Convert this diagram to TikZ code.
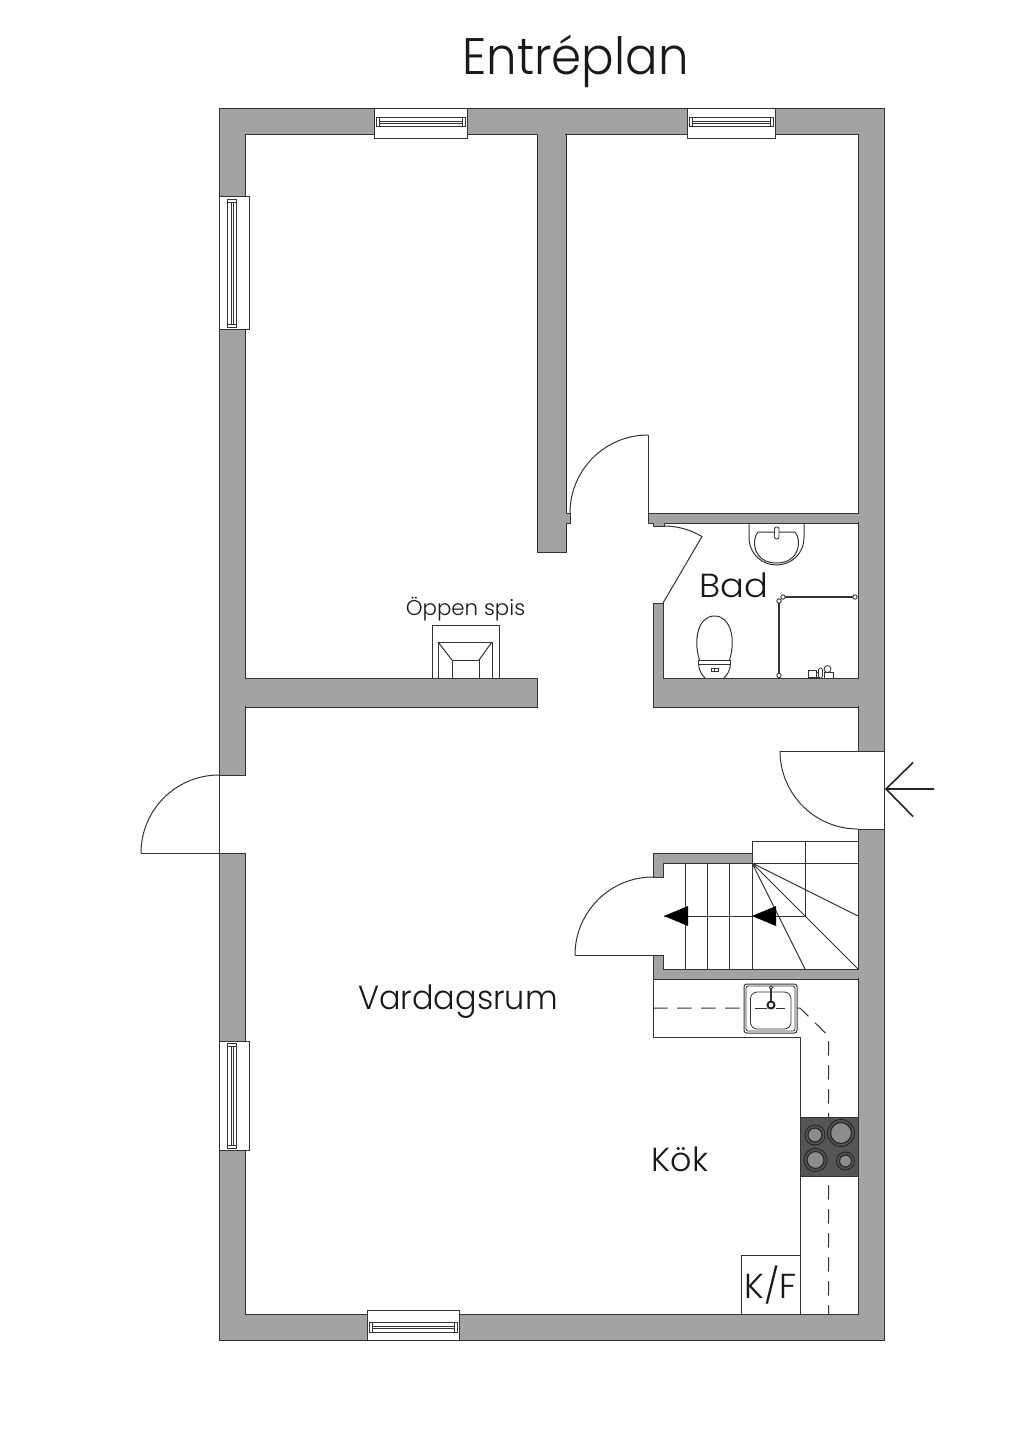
\documentclass[tikz,border=0pt]{standalone}
\usepackage{fontspec}
\setmainfont{Poppins}[UprightFont=* Light]
\definecolor{wallgray}{HTML}{A3A3A3}
\definecolor{inkline}{HTML}{333333}
\definecolor{hobdark}{HTML}{555555}
\definecolor{burner}{HTML}{8C8C8C}
\tikzset{
  ln/.style={draw=inkline,line width=0.75pt,line join=miter},
  wallln/.style={draw=inkline,line width=0.75pt,line join=miter,fill=wallgray},
  thinln/.style={draw=inkline,line width=0.6pt},
  label/.style={inner sep=0pt,anchor=base,text=black!90},
  shower/.style={draw=inkline,line width=1.3pt},
  post/.style={draw=inkline,fill=white,line width=0.7pt},
  dashln/.style={draw=inkline,line width=0.75pt,dash pattern=on 11pt off 7pt},
}
% window in local axes: #1 = origin, #2 = x axis, #3 = y axis, #4 = length
\newcommand{\windowat}[4]{%
  \begin{scope}[shift={#1},x={#2},y={#3}]
    \path[ln,fill=white] (0,0) rectangle (#4,30);
    \path[thinln,fill=white] (2,8) rectangle ({#4-2},17.5);
    \path[thinln,fill=white] (5,8) rectangle ({#4-5},17.5);
    \path[thinln] (5,12) -- ({#4-5},12) (5,14) -- ({#4-5},14);
  \end{scope}}
\begin{document}
\begin{tikzpicture}[x=0.75pt,y=-0.75pt]
\useasboundingbox (0,0) rectangle (1024,1448);
\fill[white] (0,0) rectangle (1024,1448);
% walls
\path[wallln] (219,775)--(219,109)--(884,109)--(884,751)--(858,751)--(858,135)--(245,135)--(245,775)--cycle;
\path[wallln] (219,853)--(245,853)--(245,1314)--(858,1314)--(858,829)--(884,829)--(884,1340)--(219,1340)--cycle;
\path[wallln] (537,135)--(566,135)--(566,513)--(570,513)--(570,523)--(566,523)--(566,552)--(537,552)--cycle;
\path[wallln] (648,513)--(858,513)--(858,523)--(664,523)--(664,526)--(653,526)--(653,523)--(648,523)--cycle;
\path[wallln] (653,603)--(663,603)--(663,678)--(858,678)--(858,707)--(653,707)--cycle;
\path[wallln] (245,678)--(537,678)--(537,707)--(245,707)--cycle;
\path[wallln] (752,853)--(752,863)--(663.5,863)--(663.5,877)--(653,877)--(653,853)--cycle;
\path[wallln] (653,955)--(663.5,955)--(663.5,969)--(858,969)--(858,979)--(653,979)--cycle;
% joints of inner walls with the outer wall
\fill[wallgray] (537.7,133) rectangle (565.3,137);
\fill[wallgray] (856,513.7) rectangle (860,522.3);
\fill[wallgray] (856,678.7) rectangle (860,706.3);
\fill[wallgray] (243,678.7) rectangle (247,706.3);
\fill[wallgray] (856,969.7) rectangle (860,978.3);
% windows
\windowat{(374.5,109)}{(0.75pt,0)}{(0,-0.75pt)}{92.5}
\windowat{(687,109)}{(0.75pt,0)}{(0,-0.75pt)}{88}
\windowat{(219,197)}{(0,-0.75pt)}{(0.75pt,0)}{132}
\windowat{(219,1041)}{(0,-0.75pt)}{(0.75pt,0)}{109}
\windowat{(367,1340)}{(0.75pt,0)}{(0,0.75pt)}{92}
% doors
\path[ln] (141,853) -- (219,853) -- (219,775);
\path[ln] (219,775) arc[start angle=270,end angle=180,radius=78];
\path[ln] (884,751) -- (884,829);
\path[ln] (780,751) -- (858,751);
\path[ln] (780,751) arc[start angle=180,end angle=90,radius=78];
\path[ln] (648,513) -- (648,435);
\path[ln] (648,435) arc[start angle=270,end angle=180,radius=78];
\path[ln] (664,526) .. controls (678,526) and (691,530) .. (702,536.5) -- (663,603);
\path[ln] (575,955) -- (663.5,955) (653,877) -- (663.5,877);
\path[ln] (653,877) arc[start angle=270,end angle=180,radius=78];
% entrance arrow
\coordinate (arrowtip) at (886,789);
\coordinate (arrowtail) at (934,789);
\coordinate (arrowup) at (913,762.5);
\coordinate (arrowdown) at (913,816.5);
\path[draw=black!85,line width=1.2pt] (arrowtail) -- (arrowtip) (arrowup) -- (arrowtip) -- (arrowdown);
% stairs
\path[ln] (685,863)--(685,969) (707,863)--(707,969) (729.5,863)--(729.5,969) (752,841)--(752,969);
\path[ln] (752,841)--(858,841) (752,863)--(858,863) (805,841)--(805,916);
\path[ln] (664,916)--(805,916);
\path[ln] (752,863)--(858,916) (752,863)--(858,969) (752,863)--(805,969);
\fill[black] (664,916)--(688,906)--(688,926)--cycle;
\fill[black] (752,916)--(776,906)--(776,926)--cycle;
% fireplace
\path[ln] (432,678)--(432,625)--(499,625)--(499,678);
\path[ln] (438,678)--(438,642)--(492,642)--(492,678);
\path[ln] (452,678)--(452,660)--(479,660)--(479,678);
\path[ln] (438,642)--(452,660) (492,642)--(479,660);
% washbasin
\path[ln] (749,523) -- (749,537) .. controls (749,555) and (763,565) .. (776.5,565) .. controls (790,565) and (804,555) .. (804,537) -- (804,523);
\path[ln] (758,532) -- (795,532) .. controls (802,540) and (800,563) .. (776.5,563) .. controls (753,563) and (751,540) .. (758,532) -- cycle;
\path[thinln,fill=white,rounded corners=1.5pt] (774.5,527) rectangle (779,539);
% toilet
\path[ln] (699.5,660) .. controls (693,640) and (698,616) .. (714.5,616) .. controls (731,616) and (736,640) .. (729.5,660);
\path[ln] (698.5,660) -- (730.5,660) (698.5,660) -- (698.5,664) -- (730.5,664) -- (730.5,660);
\path[ln] (698.5,664) .. controls (699,671) and (702,675) .. (705,678) (730.5,664) .. controls (730,671) and (727,675) .. (724,678);
\path[thinln] (711,668.5) rectangle (718,671.5) (714.5,668.5) -- (714.5,671.5);
% shower
\path[shower] (779,601) -- (779,675.5) (783,597) -- (855,597);
\path[post] (779,601) circle[radius=2.2];
\path[post] (783,597) circle[radius=2.2];
\path[post] (855,597) circle[radius=2.2];
\path[post] (779,675.5) circle[radius=2.2];
% shower shelf items
\path[thinln,fill=white] (808,670.5) rectangle (816,677.5);
\path[thinln,fill=white] (816,672) rectangle (820,677.5);
\path[thinln,fill=white,rounded corners=1.2pt] (818.5,668) rectangle (822.5,678);
\path[thinln,fill=white] (827.5,669) circle[radius=3.5];
\path[thinln,fill=white] (824.5,672) rectangle (833,678);
% kitchen counter
\path[ln] (653,979) -- (653,1037) -- (800,1037) -- (800,1314);
\path[dashln] (653,1008) -- (800,1008) -- (828.5,1036) -- (828.5,1314);
% kitchen sink
\path[ln,fill=white,rounded corners=2pt] (744,984) rectangle (797,1033);
\path[thinln,rounded corners=1.5pt] (746,986) rectangle (795,1031);
\path[thinln,fill=white,rounded corners=5pt] (750.5,992) rectangle (791,1029);
\path[dashln,dash phase=2pt] (755,1008) -- (785,1008);
\path[draw=inkline,line width=1.3pt] (771,988) -- (771,1005);
\path[draw=inkline,fill=white,line width=0.6pt] (771,987.5) circle[radius=1.7];
\path[draw=black!85,fill=white,line width=1.5pt] (771,1005) circle[radius=3.5];
% hob
\path[draw=inkline,fill=hobdark,line width=0.75pt] (800,1117) rectangle (858,1176);
\foreach \cx/\cy/\r in {815/1135/10,841/1133/13.5,815.5/1160/11.5,845.5/1161/9}{
  \path[draw=black!85,fill=burner,line width=0.9pt] (\cx,\cy) circle[radius=\r-3];
  \path[draw=black!85,line width=0.7pt] (\cx,\cy) circle[radius=\r];
}
% K/F
\path[ln] (741,1314) -- (741,1255) -- (800,1255);
% texts
\node[label,font=\fontsize{38.5pt}{38.5pt}\selectfont] (title) at (575.5,74.5) {\scalebox{0.94}[1]{Entréplan}};
\node[label,font=\fontsize{25pt}{25pt}\selectfont] (bad) at (733.5,597) {\scalebox{1.06}[1]{Bad}};
\node[label,font=\fontsize{16pt}{16pt}\selectfont] (spis) at (465.5,615) {Öppen spis};
\node[label,font=\fontsize{25pt}{25pt}\selectfont] (vardagsrum) at (458,1009) {\scalebox{0.957}[1]{Vardagsrum}};
\node[label,font=\fontsize{25pt}{25pt}\selectfont] (kok) at (680,1171) {Kök};
\node[label,font=\fontsize{26pt}{26pt}\selectfont] (kf) at (770.5,1298.5) {K/F};
\end{tikzpicture}
\end{document}
